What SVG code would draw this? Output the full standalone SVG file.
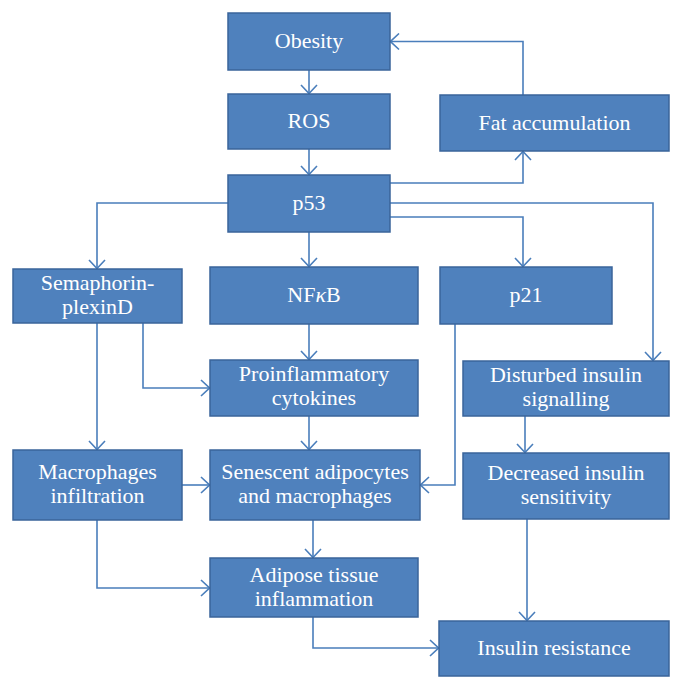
<svg xmlns="http://www.w3.org/2000/svg" width="684" height="691" viewBox="0 0 684 691">
<defs>
<marker id="ah" viewBox="0 0 10 18" refX="10" refY="9" markerWidth="10" markerHeight="18" markerUnits="userSpaceOnUse" orient="auto">
<path d="M1,1 L9.5,9 L1,17" fill="none" stroke="#4A7EBB" stroke-width="1.6"/>
</marker>
<style>
.box rect{fill:#4F81BD;stroke:#3A649A;stroke-width:1.5}
.box text{fill:#fff;font-family:"Liberation Serif","Times New Roman",serif;font-size:22px;text-anchor:middle}
#connectors path{fill:none;stroke:#4A7EBB;stroke-width:1.6;marker-end:url(#ah)}
</style>
</defs>
<rect width="684" height="691" fill="#fff"/>
<g id="connectors">
<path d="M309,70 V94"/>
<path d="M309,149 V175"/>
<path d="M523,95 V41.5 H390"/>
<path d="M390,183 H523 V151"/>
<path d="M390,203 H653 V361"/>
<path d="M390,217 H523 V267"/>
<path d="M228,203 H97 V269"/>
<path d="M309,232 V267"/>
<path d="M97,323 V450"/>
<path d="M143,323 V388 H210"/>
<path d="M309,324 V360"/>
<path d="M309,416 V450"/>
<path d="M182,485 H210"/>
<path d="M455,324 V485 H420"/>
<path d="M525,416 V453"/>
<path d="M313,520 V558"/>
<path d="M97,520 V588 H210"/>
<path d="M313,617 V648 H439"/>
<path d="M527,519 V621"/>
</g>
<g id="obesity" class="box"><rect x="228" y="13" width="162" height="57"/><text x="309" y="48">Obesity</text></g>
<g id="ros" class="box"><rect x="228" y="94" width="162" height="55"/><text x="309" y="128">ROS</text></g>
<g id="fat" class="box"><rect x="440" y="95" width="229" height="56"/><text x="554.5" y="130">Fat accumulation</text></g>
<g id="p53" class="box"><rect x="228" y="175" width="162" height="57"/><text x="309" y="210">p53</text></g>
<g id="sema" class="box"><rect x="13" y="269" width="169" height="54"/><text x="97.5" y="290">Semaphorin-</text><text x="97.5" y="314">plexinD</text></g>
<g id="nfkb" class="box"><rect x="210" y="267" width="208" height="57"/><text x="314" y="302">NF<tspan font-style="italic">κ</tspan>B</text></g>
<g id="p21" class="box"><rect x="440" y="267" width="172" height="57"/><text x="526" y="302">p21</text></g>
<g id="proinf" class="box"><rect x="210" y="360" width="208" height="56"/><text x="314" y="381">Proinflammatory</text><text x="314" y="405">cytokines</text></g>
<g id="disturbed" class="box"><rect x="463" y="361" width="206" height="55"/><text x="566" y="382">Disturbed insulin</text><text x="566" y="406">signalling</text></g>
<g id="macro" class="box"><rect x="13" y="450" width="169" height="70"/><text x="97.5" y="479">Macrophages</text><text x="97.5" y="503">infiltration</text></g>
<g id="senescent" class="box"><rect x="210" y="450" width="210" height="70"/><text x="315" y="479">Senescent adipocytes</text><text x="315" y="503">and macrophages</text></g>
<g id="decreased" class="box"><rect x="463" y="453" width="206" height="66"/><text x="566" y="480">Decreased insulin</text><text x="566" y="504">sensitivity</text></g>
<g id="adipose" class="box"><rect x="210" y="558" width="208" height="59"/><text x="314" y="582">Adipose tissue</text><text x="314" y="606">inflammation</text></g>
<g id="ir" class="box"><rect x="439" y="621" width="230" height="55"/><text x="554" y="655">Insulin resistance</text></g>
</svg>
